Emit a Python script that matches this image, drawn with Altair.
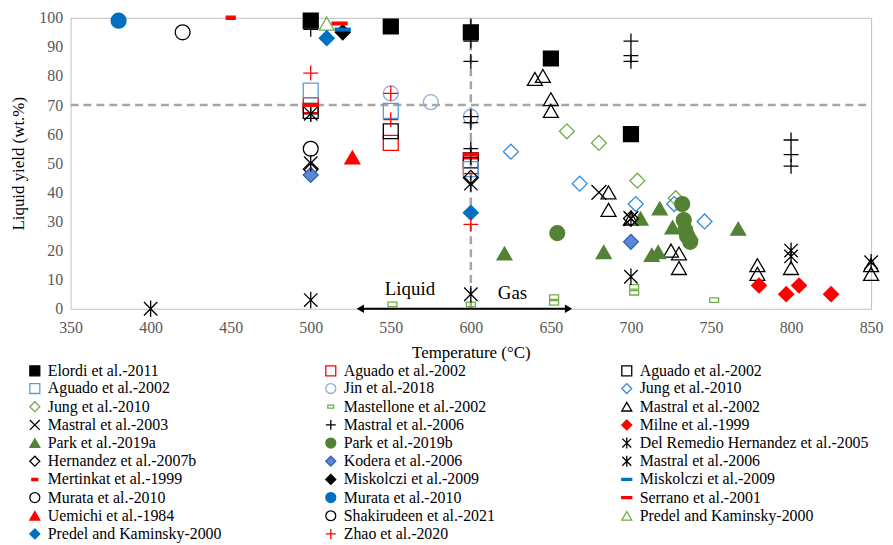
import altair as alt
import pandas as pd

FONT = "Liberation Serif"

# ---------------- data ----------------
names = [
    "Elordi et al.-2011", "Aguado et al.-2002", "Aguado et al.-2002",
    "Aguado et al.-2002", "Jin et al.-2018", "Jung et al.-2010",
    "Jung et al.-2010", "Mastellone et al.-2002", "Mastral et al.-2002",
    "Mastral et al.-2003", "Mastral et al.-2006", "Milne et al.-1999",
    "Park et al.-2019a", "Park et al.-2019b", "Del Remedio Hernandez et al.-2005",
    "Hernandez et al.-2007b", "Kodera et al.-2006", "Mastral et al.-2006",
    "Mertinkat et al.-1999", "Miskolczi et al.-2009", "Miskolczi et al.-2009",
    "Murata et al.-2010", "Murata et al.-2010", "Serrano et al.-2001",
    "Uemichi et al.-1984", "Shakirudeen et al.-2021", "Predel and Kaminsky-2000",
    "Predel and Kaminsky-2000", "Zhao et al.-2020",
]

elordi_T = [500, 550, 600, 650, 700]
elordi_Y = [99, 97, 95, 86, 60]
aguado_red_T = [500, 550, 600]
aguado_red_Y = [70, 57, 49]
aguado_black_T = [500, 550, 600]
aguado_black_Y = [68, 61, 51]
aguado_blue_T = [500, 550, 600]
aguado_blue_Y = [75, 68, 48]
jin_T = [550, 575, 600]
jin_Y = [74, 71, 66]
jung_blue_T = [625, 668, 703, 727, 746]
jung_blue_Y = [54, 43, 36, 36, 30]
jung_green_T = [660, 680, 704, 728]
jung_green_Y = [61, 57, 44, 38]
mastellone_T = [551, 600, 652, 652, 702, 702, 752]
mastellone_Y = [1.5, 1.5, 2, 4, 5.5, 7.5, 3]
mastral02_T = [640, 645, 650, 650, 686, 686, 700, 725, 730, 730, 779, 779, 800, 850, 850]
mastral02_Y = [79, 80, 72, 68, 40, 34, 31, 20, 19, 14, 15, 12, 14, 15, 12]
mastral03_T = [680, 700]
mastral03_Y = [40, 31]
mastral06p_T = [500, 500, 600, 600, 600, 600, 600, 600, 600, 700, 700, 700, 800, 800, 800]
mastral06p_Y = [96, 67, 97, 92, 85, 66, 64, 55, 52, 92, 87, 85, 58, 53, 49]
milne_T = [780, 797, 805, 825]
milne_Y = [8, 5, 8, 5]
park_a_T = [621, 683, 706, 718, 713, 717, 726, 737, 767]
park_a_Y = [19, 19.5, 31, 34.5, 18.5, 19.5, 28, 26, 27.5]
park_b_T = [654, 732, 733, 734, 735, 737]
park_b_Y = [26, 36, 30.5, 27, 25, 23]
delremedio_T = [400, 500, 600, 700]
delremedio_Y = [0, 3, 5, 11]
hernandez_T = [500, 600, 700]
hernandez_Y = [48, 45, 31]
kodera_T = [500, 700]
kodera_Y = [46, 23]
mastral06a_T = [500, 500, 600, 700, 800, 800, 850]
mastral06a_Y = [67, 50, 43, 31, 20, 18, 16]
mertinkat_T = [450]
mertinkat_Y = [100]
miskolczi_black_T = [520]
miskolczi_black_Y = [95]
miskolczi_blue_T = [520]
miskolczi_blue_Y = [96]
murata_black_T = [420]
murata_black_Y = [95]
murata_blue_T = [380]
murata_blue_Y = [99]
serrano_T = [518, 600, 500]
serrano_Y = [98, 53, 70]
uemichi_T = [526]
uemichi_Y = [52]
shakirudeen_T = [500]
shakirudeen_Y = [55]
predel_green_T = [510]
predel_green_Y = [98]
predel_blue_T = [510, 600]
predel_blue_Y = [93, 33]
zhao_T = [500, 550, 550, 600]
zhao_Y = [81, 74, 65, 29]

series_T = [elordi_T, aguado_red_T, aguado_black_T, aguado_blue_T, jin_T, jung_blue_T,
            jung_green_T, mastellone_T, mastral02_T, mastral03_T, mastral06p_T, milne_T,
            park_a_T, park_b_T, delremedio_T, hernandez_T, kodera_T, mastral06a_T,
            mertinkat_T, miskolczi_black_T, miskolczi_blue_T, murata_black_T, murata_blue_T,
            serrano_T, uemichi_T, shakirudeen_T, predel_green_T, predel_blue_T, zhao_T]
series_Y = [elordi_Y, aguado_red_Y, aguado_black_Y, aguado_blue_Y, jin_Y, jung_blue_Y,
            jung_green_Y, mastellone_Y, mastral02_Y, mastral03_Y, mastral06p_Y, milne_Y,
            park_a_Y, park_b_Y, delremedio_Y, hernandez_Y, kodera_Y, mastral06a_Y,
            mertinkat_Y, miskolczi_black_Y, miskolczi_blue_Y, murata_black_Y, murata_blue_Y,
            serrano_Y, uemichi_Y, shakirudeen_Y, predel_green_Y, predel_blue_Y, zhao_Y]

# annotation values
hline_y = [70]
vline_x = [600]
arrow_T = [531, 661]
region_labels = ["Liquid", "Gas"]
region_T = [562, 626]
region_Y = [6.8, 5.4]

# ---------------- styles ----------------
X = "M-1,-1L1,1M-1,1L1,-1"
PLUS = "M-1,0L1,0M0,-1L0,1"
AST = "M-0.9,-0.9L0.9,0.9M-0.9,0.9L0.9,-0.9M0,-1.1L0,1.1"
DASH = "M-1,-0.18L1,-0.18L1,0.18L-1,0.18Z"
SDASH = "M-0.6,-0.22L0.6,-0.22L0.6,0.22L-0.6,0.22Z"
HDASH = "M-0.6,-0.3L0.6,-0.3L0.6,0.3L-0.6,0.3Z"
T = "transparent"
BLK, RED = "#000000", "#FF0000"
shapes = ["square", "square", "square", "square", "circle", "diamond",
          "diamond", HDASH, "triangle-up", X, PLUS, "diamond",
          "triangle-up", "circle", AST, "diamond", "diamond", AST,
          SDASH, "diamond", DASH, "circle", "circle", DASH,
          "triangle-up", "circle", "triangle-up", "diamond", PLUS]
strokes = [BLK, RED, BLK, "#5B9BD5", "#8FAADC", "#2E8BDE",
           "#70AD47", "#70AD47", BLK, BLK, BLK, RED,
           "#548235", "#548235", BLK, BLK, "#2F5FB3", BLK,
           RED, BLK, "#0070C0", BLK, "#0070C0", RED,
           RED, BLK, "#70AD47", "#0070C0", RED]
fills = [BLK, T, T, T, T, T,
         T, T, T, T, T, RED,
         "#548235", "#548235", T, T, "#5B87D6", T,
         RED, BLK, "#0070C0", T, "#0070C0", RED,
         RED, T, T, "#0070C0", T]

keys = [f"{i:02d} {n}" for i, n in enumerate(names)]
rows = []
for k, ts, ys in zip(keys, series_T, series_Y):
    for t, y in zip(ts, ys):
        rows.append({"key": k, "T": t, "Y": y})
df = pd.DataFrame(rows)

xscale = alt.Scale(domain=[350, 850], nice=False, zero=False)
yscale = alt.Scale(domain=[0, 100], nice=False)

legend = alt.Legend(
    title=None, orient="none", legendX=-44, legendY=347, direction="horizontal",
    columns=3, gridAlign="all", columnPadding=46, rowPadding=0.3,
    labelFont=FONT, labelFontSize=16, labelColor="#000000", labelLimit=400,
    labelOffset=5, symbolSize=100, symbolStrokeWidth=1.3, symbolLimit=40,
    labelExpr="substring(datum.label, 3)",
)

xaxis = alt.Axis(values=list(range(350, 851, 50)), title="Temperature (°C)",
                 labelPadding=11, titlePadding=9, labelFlush=False,
                 labelFont=FONT, labelFontSize=16, labelColor="#595959")
yaxis = alt.Axis(values=list(range(0, 101, 10)), title="Liquid yield (wt.%)",
                 labelPadding=8, titlePadding=11, labelFlush=False,
                 labelFont=FONT, labelFontSize=16, labelColor="#595959")


def X_(f):
    return alt.X(f, scale=xscale, axis=xaxis)


def Y_(f):
    return alt.Y(f, scale=yscale, axis=yaxis)


hrule = alt.Chart(pd.DataFrame({"y": hline_y, "x0": [350], "x1": [850]})).mark_rule(
    color="#A6A6A6", strokeWidth=2.5, strokeDash=[8, 5]
).encode(x=X_("x0:Q"), x2="x1:Q", y=Y_("y:Q"))

vrule = alt.Chart(pd.DataFrame({"x": vline_x, "y0": [0], "y1": [100]})).mark_rule(
    color="#A6A6A6", strokeWidth=2.5, strokeDash=[8, 5]
).encode(x=X_("x:Q"), y=Y_("y0:Q"), y2="y1:Q")

points = alt.Chart(df).mark_point(size=225, opacity=1, strokeWidth=1.3).encode(
    x=X_("T:Q"),
    y=Y_("Y:Q"),
    shape=alt.Shape("key:N", scale=alt.Scale(domain=keys, range=shapes), legend=legend),
    stroke=alt.Stroke("key:N", scale=alt.Scale(domain=keys, range=strokes), legend=legend),
    fill=alt.Fill("key:N", scale=alt.Scale(domain=keys, range=fills), legend=legend),
)

arrow_line = alt.Chart(pd.DataFrame({"a": [arrow_T[0]], "b": [arrow_T[1]], "y": [0]})).mark_rule(
    color="black", strokeWidth=2
).encode(x=X_("a:Q"), x2="b:Q", y=Y_("y:Q"))
head_left = alt.Chart(pd.DataFrame({"T": [arrow_T[0]], "Y": [0]})).mark_point(
    filled=True, color="black", opacity=1, size=70, shape="triangle-left"
).encode(x=X_("T:Q"), y=Y_("Y:Q"))
head_right = alt.Chart(pd.DataFrame({"T": [arrow_T[1]], "Y": [0]})).mark_point(
    filled=True, color="black", opacity=1, size=70, shape="triangle-right"
).encode(x=X_("T:Q"), y=Y_("Y:Q"))

texts = alt.Chart(pd.DataFrame({"t": region_labels, "T": region_T, "Y": region_Y})).mark_text(
    font=FONT, fontSize=19, color="black", baseline="middle", align="center"
).encode(x=X_("T:Q"), y=Y_("Y:Q"), text="t:N")

chart = alt.layer(hrule, vrule, points, arrow_line, head_left, head_right, texts).properties(
    width=806, height=293,
    padding={"left": 63, "top": 8, "right": 14, "bottom": 236},
    autosize=alt.AutoSizeParams(type="none"),
).configure(font=FONT).configure_view(stroke="#BFBFBF", strokeWidth=1).configure_axis(
    grid=False, ticks=False, domain=False,
    labelFont=FONT, labelFontSize=16, labelColor="#595959",
    titleFont=FONT, titleFontSize=17, titleFontWeight="normal", titleColor="#000000",
).configure_legend(labelFont=FONT)

chart.save("out.html", embed_options={"renderer": "svg", "actions": False})
